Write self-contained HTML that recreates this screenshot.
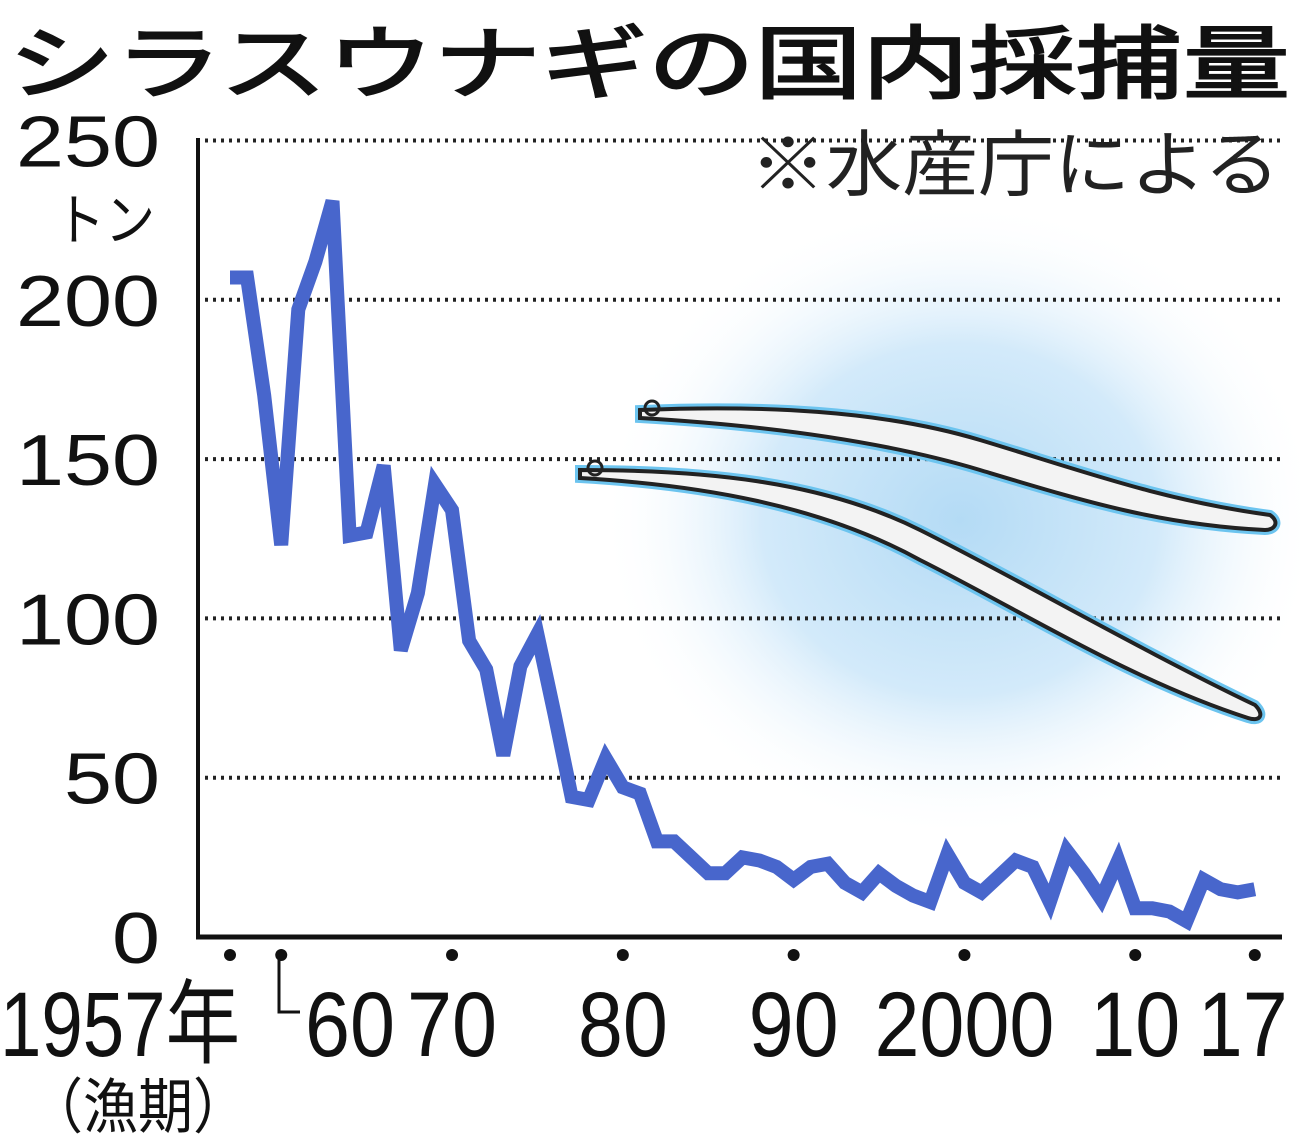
<!DOCTYPE html>
<html><head><meta charset="utf-8"><style>
html,body{margin:0;padding:0;background:#fff;}
body{width:1300px;height:1148px;overflow:hidden;position:relative;font-family:"Liberation Sans","Noto Sans CJK JP",sans-serif;}
svg{position:absolute;left:0;top:0;}
</style></head><body>
<svg id="chart" width="1300" height="1148" viewBox="0 0 1300 1148" xmlns="http://www.w3.org/2000/svg">
<defs>
<radialGradient id="glow" cx="0.5" cy="0.5" r="0.5">
<stop offset="0" stop-color="#b4dbf5"/>
<stop offset="0.55" stop-color="#d3eafa"/>
<stop offset="1" stop-color="#ffffff" stop-opacity="0"/>
</radialGradient>
</defs>
<text x="8" y="92" font-size="80" fill="#111" stroke="#111" stroke-width="2" font-family="'Noto Sans CJK JP',sans-serif" textLength="1282" lengthAdjust="spacingAndGlyphs">シラスウナギの国内採捕量</text>
<text x="750" y="190" font-size="72" fill="#222" font-family="'Noto Sans CJK JP',sans-serif" textLength="530" lengthAdjust="spacingAndGlyphs">※水産庁による</text>
<ellipse cx="960" cy="520" rx="360" ry="320" fill="url(#glow)"/>
<g id="grid"></g>
<g id="eels">
<path d="M640,410 C760,405 880,410 980,440 C1080,470 1160,500 1270,515 C1280,522 1275,530 1265,530 C1160,525 1080,500 980,470 C880,440 760,425 640,418 Z" fill="#f3f3f3" stroke="#6cc4ef" stroke-width="10"/>
<path d="M640,410 C760,405 880,410 980,440 C1080,470 1160,500 1270,515 C1280,522 1275,530 1265,530 C1160,525 1080,500 980,470 C880,440 760,425 640,418 Z" fill="#f3f3f3" stroke="#222" stroke-width="4"/>
<path d="M580,470 C700,470 820,480 920,530 C1020,580 1140,650 1255,705 C1265,715 1260,722 1248,718 C1130,680 1020,610 920,560 C820,505 700,485 580,478 Z" fill="#f3f3f3" stroke="#6cc4ef" stroke-width="10"/>
<path d="M580,470 C700,470 820,480 920,530 C1020,580 1140,650 1255,705 C1265,715 1260,722 1248,718 C1130,680 1020,610 920,560 C820,505 700,485 580,478 Z" fill="#f3f3f3" stroke="#222" stroke-width="4"/>
<circle cx="652" cy="408" r="7" fill="none" stroke="#222" stroke-width="3"/>
<circle cx="595" cy="468" r="7" fill="none" stroke="#222" stroke-width="3"/>
</g>
<line x1="198" y1="138" x2="198" y2="938" stroke="#111" stroke-width="4"/>
<line x1="196" y1="937" x2="1282" y2="937" stroke="#111" stroke-width="5"/>
<g id="yticks"></g>
<text x="55" y="240" font-size="56" fill="#111" font-family="'Noto Sans CJK JP',sans-serif" textLength="100" lengthAdjust="spacingAndGlyphs">トン</text>
<g id="xticks"></g>
<path d="M279,955 V1012 H300" fill="none" stroke="#111" stroke-width="3"/>
<text x="28" y="1128" font-size="60" fill="#111" font-family="'Noto Sans CJK JP',sans-serif" textLength="220" lengthAdjust="spacingAndGlyphs">（漁期）</text>
<path id="series" fill="none" stroke="#4866cc" stroke-width="14" stroke-linejoin="miter" stroke-miterlimit="3"/>
</svg>
<script>
const years = [];
for (let y = 1957; y <= 2017; y++) years.push(y);
const catchTons = [207,207,170,123,197,212,231,126,127,148,90,108,142,134,93,84,57,85,95,70,44,43,56,47,45,30,30,25,20,20,25,24,22,18,22,23,17,14,20,16,13,11,26,17,14,19,24,22,11,27,20,12,24,9,9,8,5,18,15,14,15];
const yTicks = [0,50,100,150,200,250];
const yTickLabels = ["0","50","100","150","200","250"];
const xTickYears = [1957,1960,1970,1980,1990,2000,2010,2017];
const xTickLabels = ["1957年","60","70","80","90","2000","10","17"];

const NS = "http://www.w3.org/2000/svg";
function xs(yr){ return 230 + (yr - 1957) * 17.08; }
function ys(v){ return 937 - v * 3.186; }

const grid = document.getElementById('grid');
const yt = document.getElementById('yticks');
yTicks.forEach((v,i)=>{
  if (v > 0) {
    const l = document.createElementNS(NS,'line');
    
    
    l.setAttribute('x1',205); l.setAttribute('x2',1280);
    l.setAttribute('y1',ys(v)); l.setAttribute('y2',ys(v));
    l.setAttribute('stroke','#222'); l.setAttribute('stroke-width','4');
    l.setAttribute('stroke-dasharray','3 5');
    grid.appendChild(l);
  }
  const t = document.createElementNS(NS,'text');
  
  
  const n = yTickLabels[i].length;
  const w = n * 48;
  t.setAttribute('x', 160 - w); t.setAttribute('y', ys(v) + 26);
  t.setAttribute('font-size','72');
  t.setAttribute('textLength', w); t.setAttribute('lengthAdjust','spacingAndGlyphs');
  t.setAttribute('fill','#111');
  t.textContent = yTickLabels[i];
  yt.appendChild(t);
});

const xt = document.getElementById('xticks');
xTickYears.forEach((yr,i)=>{
  const c = document.createElementNS(NS,'circle');
  
  
  c.setAttribute('cx',xs(yr)); c.setAttribute('cy',955); c.setAttribute('r',6);
  c.setAttribute('fill','#111');
  xt.appendChild(c);
  const t = document.createElementNS(NS,'text');
  
  
  t.setAttribute('y',1056); t.setAttribute('font-size','92'); t.setAttribute('fill','#111');
  t.setAttribute('lengthAdjust','spacingAndGlyphs');
  if (i === 0) { t.setAttribute('x',0); t.setAttribute('textLength','240'); }
  else if (i === 1) { t.setAttribute('x',305); t.setAttribute('textLength','90'); }
  else {
    const w = xTickLabels[i].length * 45;
    t.setAttribute('x', xs(yr) - w/2 + (i === 7 ? -12 : 0));
    t.setAttribute('textLength', w);
  }
  t.textContent = xTickLabels[i];
  xt.appendChild(t);
});

const d = catchTons.map((v,i)=>(i?'L':'M') + xs(years[i]).toFixed(1) + ',' + ys(v).toFixed(1)).join(' ');
document.getElementById('series').setAttribute('d', d);
</script>
</body></html>
